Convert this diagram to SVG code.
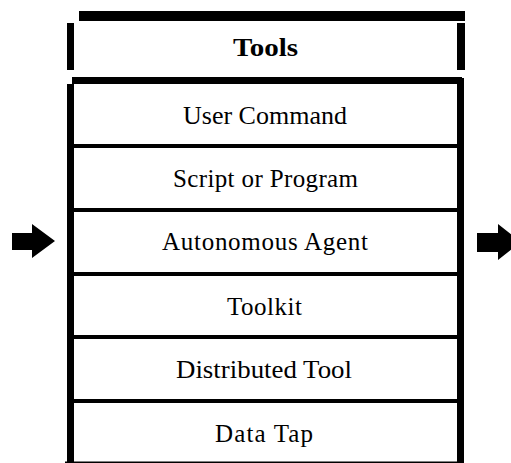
<svg xmlns="http://www.w3.org/2000/svg" width="511" height="463" viewBox="0 0 511 463">
<style>
.bar{fill:#000}
.div{stroke:#000;stroke-width:4}
.lbl{font-family:"Liberation Serif","Times New Roman",serif;font-size:25px;fill:#000;text-anchor:middle}
.hdr{font-family:"Liberation Serif","Times New Roman",serif;font-size:26px;font-weight:bold;fill:#000;text-anchor:middle}
.arr{fill:#000}
</style>
<rect width="511" height="463" fill="#fff"/>
<g id="header">
<rect class="bar" x="79" y="11" width="386" height="10"/>
<rect class="bar" x="67" y="23" width="7" height="47"/>
<rect class="bar" x="457" y="23" width="8" height="47"/>
<text class="hdr" x="265.5" y="55.5" textLength="65" lengthAdjust="spacingAndGlyphs">Tools</text>
</g>
<g id="frame">
<rect class="bar" x="72" y="77" width="390" height="7"/>
<rect class="bar" x="67" y="84" width="7" height="379"/>
<rect class="bar" x="457" y="78" width="7" height="385"/>
<line x1="65" y1="462.3" x2="457" y2="462.3" stroke="#000" stroke-width="1.5"/>
<line class="div" x1="74" y1="146" x2="457" y2="146"/>
<line class="div" x1="74" y1="210" x2="457" y2="210"/>
<line class="div" x1="74" y1="274" x2="457" y2="274"/>
<line class="div" x1="74" y1="337" x2="457" y2="337"/>
<line class="div" x1="74" y1="401" x2="457" y2="401"/>
</g>
<g id="user-command"><text class="lbl" x="265" y="124" textLength="164" lengthAdjust="spacingAndGlyphs">User Command</text></g>
<g id="script-or-program"><text class="lbl" x="265.5" y="187" textLength="185" lengthAdjust="spacing">Script or Program</text></g>
<g id="autonomous-agent"><text class="lbl" x="265" y="250" textLength="206" lengthAdjust="spacing">Autonomous Agent</text></g>
<g id="toolkit"><text class="lbl" x="264.5" y="315" textLength="75" lengthAdjust="spacing">Toolkit</text></g>
<g id="distributed-tool"><text class="lbl" x="264" y="378" textLength="176" lengthAdjust="spacingAndGlyphs">Distributed Tool</text></g>
<g id="data-tap"><text class="lbl" x="264" y="442" textLength="98" lengthAdjust="spacing">Data Tap</text></g>
<g id="connectors">
<polygon class="arr" points="12,233 32,233 32,224 55,241 32,258 32,250 12,250"/>
<polygon class="arr" points="477,233 498,233 498,224 521,242 498,260 498,252 477,252"/>
</g>
</svg>
